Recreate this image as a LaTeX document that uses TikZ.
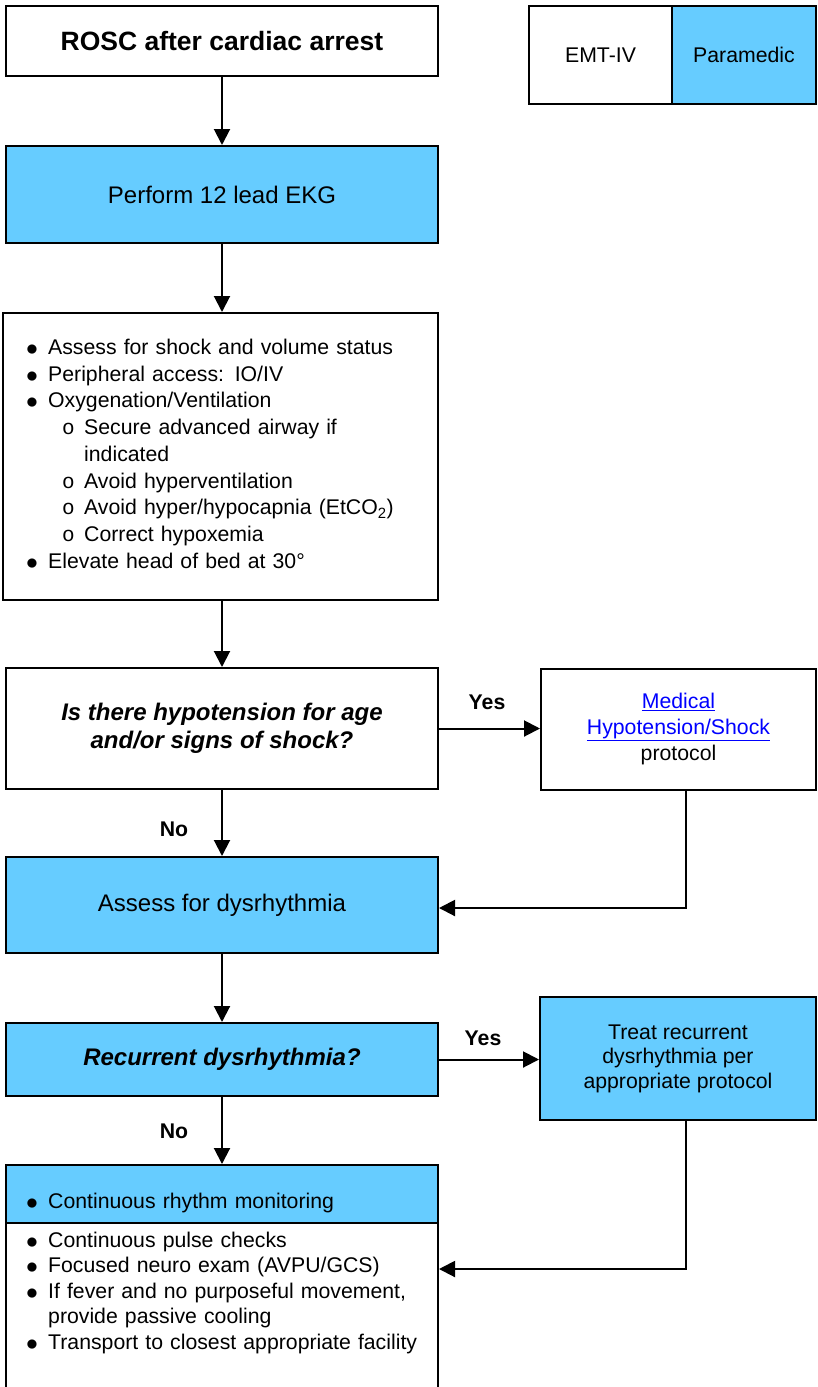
\documentclass[tikz,border=0pt]{standalone}
\usepackage{fontspec}
\setmainfont{Liberation Sans}
\newfontfamily\bulletmono{Liberation Mono}
\usetikzlibrary{arrows.meta}
\definecolor{pmblue}{RGB}{102,204,255}
\definecolor{linkblue}{RGB}{0,0,255}
\newcommand\fsmall{\fontsize{21.25}{26.75}\selectfont}
\newcommand\fbig{\fontsize{24}{27.5}\selectfont}
\newcommand\ftitle{\fontsize{26.5}{30}\selectfont\bfseries}
\newcommand\bul{\makebox[22pt][l]{\raisebox{-1pt}{\scalebox{1.15}{$\bullet$}}}}
\newcommand\subbul{\hspace*{36pt}\makebox[22pt][l]{\bulletmono\fontsize{21}{21}\selectfont o}}
\begin{document}
\begin{tikzpicture}[x=1pt,y=-1pt,
  box/.style={draw, line width=2pt, inner sep=0pt, align=center},
  pm/.style={fill=pmblue},
  flow/.style={line width=2pt, -{Triangle[length=16pt,width=16pt]}},
  lbl/.style={font=\fsmall\bfseries, inner sep=0pt},
  listtxt/.style={anchor=base west, inner sep=0pt, align=left, text width=420pt, font=\fsmall}
]
\useasboundingbox (0,0) rectangle (817,1387);
\fill[white] (0,0) rectangle (817,1387);

\node[box, minimum width=432pt, minimum height=70pt, font=\ftitle] (rosc) at (222,41) {ROSC after cardiac arrest};
\node[box, minimum width=143pt, minimum height=98pt, font=\fsmall] (emt) at (600.5,55) {EMT-IV};
\node[box, pm, minimum width=144pt, minimum height=98pt, font=\fsmall] (para) at (744,55) {Paramedic};

\node[box, pm, minimum width=432pt, minimum height=97pt, font=\fbig] (ekg) at (222,194.5) {Perform 12 lead EKG};

\node[box, minimum width=435pt, minimum height=287pt] (care) at (220.5,456.5) {};
\node[listtxt] (caretext) at (26,354.3) {\bul Assess for shock and volume status\\
\bul Peripheral access: IO/IV\\
\bul Oxygenation/Ventilation\\
\subbul Secure advanced airway if\\
\hspace*{58pt}indicated\\
\subbul Avoid hyperventilation\\
\subbul Avoid hyper/hypocapnia (EtCO\textsubscript{2})\\
\subbul Correct hypoxemia\\
\bul Elevate head of bed at 30°};

\node[box, minimum width=432pt, minimum height=121pt, font=\fbig\bfseries\itshape] (hypo) at (222,728.5) {Is there hypotension for age\\and/or signs of shock?};
\node[box, minimum width=275pt, minimum height=121pt, font={\fontsize{21.25}{26}\selectfont}, text=linkblue] (med) at (678.5,729) {\underline{Medical}\\\underline{Hypotension/Shock}\\\textcolor{black}{protocol}};

\node[box, pm, minimum width=432pt, minimum height=96pt, font=\fbig] (dys) at (222,905) {Assess for dysrhythmia};
\node[box, pm, minimum width=432pt, minimum height=73pt, font=\fbig\bfseries\itshape] (rec) at (222,1059.5) {Recurrent dysrhythmia?};
\node[box, pm, minimum width=276pt, minimum height=123pt, font={\fontsize{21.25}{24.5}\selectfont}] (treat) at (678,1058.5) {Treat recurrent\\dysrhythmia per\\appropriate protocol};

\node[box, minimum width=432pt, minimum height=230pt] (final) at (222,1280) {};
\node[box, pm, minimum width=432pt, minimum height=58pt] (hdr) at (222,1194) {};
\node[listtxt] (hdrtext) at (26,1208) {\bul Continuous rhythm monitoring};
\node[listtxt, font={\fontsize{21.25}{25.5}\selectfont}] (finaltext) at (26,1247) {\bul Continuous pulse checks\\
\bul Focused neuro exam (AVPU/GCS)\\
\bul If fever and no purposeful movement,\\
\hspace*{22pt}provide passive cooling\\
\bul Transport to closest appropriate facility};

\draw[flow] (rosc) -- (ekg);
\draw[flow] (ekg.south) -- (ekg.south |- care.north);
\draw[flow] (hypo.north |- care.south) -- (hypo.north);
\draw[flow] (hypo) -- (dys);
\draw[flow] (dys) -- (rec);
\draw[flow] (rec.south) -- (rec.south |- hdr.north);
\draw[flow] (hypo.east) -- (hypo.east -| med.west);
\draw[flow] (rec.east) -- (rec.east -| treat.west);
\draw[flow] ([xshift=7.5pt]med.south) |- ([yshift=-3pt]dys.east);
\draw[flow] ([xshift=8pt]treat.south) |- ([yshift=11pt]final.east);

\node[lbl] (yes1) at (487,702) {Yes};
\node[lbl] (no1) at (174,829) {No};
\node[lbl] (yes2) at (483,1038) {Yes};
\node[lbl] (no2) at (174,1131) {No};
\end{tikzpicture}
\end{document}
